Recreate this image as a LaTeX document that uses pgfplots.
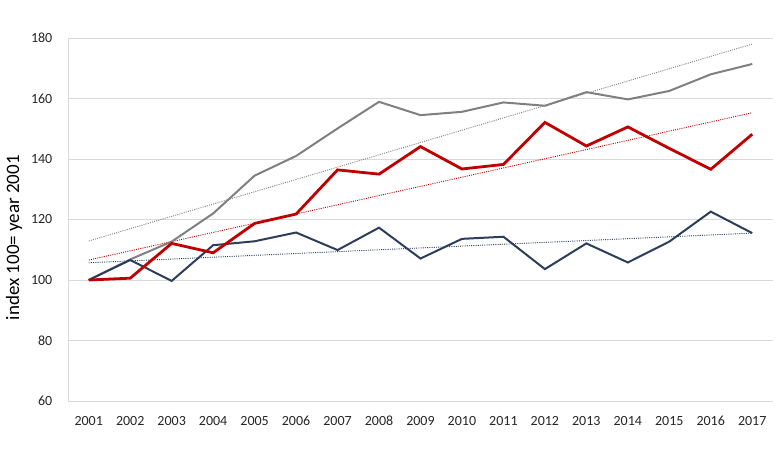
\documentclass[border=0pt]{standalone}
\usepackage{fontspec}
\setmainfont{Carlito}
\usepackage{pgfplots}
\pgfplotsset{compat=1.18}
\definecolor{sgray}{RGB}{128,128,128}
\definecolor{sred}{RGB}{192,0,0}
\definecolor{snavy}{RGB}{44,62,92}
\definecolor{gridc}{RGB}{217,217,217}
\begin{document}
\begin{tikzpicture}
\path (0,0) rectangle (783pt,450pt);
\begin{axis}[at={(68pt,49pt)}, anchor=south west,
  scale only axis, width=705pt, height=363pt,
  xmin=2000.5, xmax=2017.5, ymin=60, ymax=180,
  xtick={2001,...,2017}, ytick={60,80,...,180},
  axis x line=bottom, axis y line=left,
  axis line style={-, draw=gridc, line width=0.8pt},
  ymajorgrids, major grid style={draw=gridc, line width=0.8pt},
  tick style={draw=none},
  ticklabel style={font=\fontsize{14}{16}\selectfont, text=black!85},
  /pgf/number format/assume math mode=true,
  /pgf/number format/1000 sep={},
  xticklabel style={yshift=-9.5pt},
  yticklabel style={xshift=-10pt},
  ylabel={index 100= year 2001},
  ylabel style={font=\fontsize{19}{22}\selectfont, text=black,
    at={(axis description cs:-0.0766,0.45)}, anchor=center},
  clip=false]
% trend lines
\addplot[sgray, line width=0.9pt, dash pattern=on 1pt off 1.2pt] coordinates {(2001,112.9) (2017,178.0)};
\addplot[sred, line width=0.9pt, dash pattern=on 1pt off 1.2pt] coordinates {(2001,106.6) (2017,155.3)};
\addplot[snavy, line width=0.9pt, dash pattern=on 1pt off 1.2pt] coordinates {(2001,105.7) (2017,115.5)};
% series
\addplot[sgray, line width=2pt] coordinates {
 (2001,100) (2002,106.8) (2003,112.7) (2004,122.0) (2005,134.5) (2006,141.0)
 (2007,150.1) (2008,158.9) (2009,154.5) (2010,155.6) (2011,158.7) (2012,157.6)
 (2013,162.1) (2014,159.7) (2015,162.5) (2016,168.0) (2017,171.4)};
\addplot[snavy, line width=2pt] coordinates {
 (2001,100) (2002,106.6) (2003,99.7) (2004,111.5) (2005,112.8) (2006,115.7)
 (2007,109.9) (2008,117.3) (2009,107.1) (2010,113.6) (2011,114.3) (2012,103.6)
 (2013,112.1) (2014,105.8) (2015,112.7) (2016,122.6) (2017,115.5)};
\addplot[sred, line width=2.8pt] coordinates {
 (2001,100) (2002,100.6) (2003,112.1) (2004,109.0) (2005,118.7) (2006,121.8)
 (2007,136.4) (2008,135.0) (2009,144.1) (2010,136.7) (2011,138.2) (2012,152.1)
 (2013,144.3) (2014,150.6) (2015,143.5) (2016,136.6) (2017,148.2)};
\end{axis}
\end{tikzpicture}
\end{document}
